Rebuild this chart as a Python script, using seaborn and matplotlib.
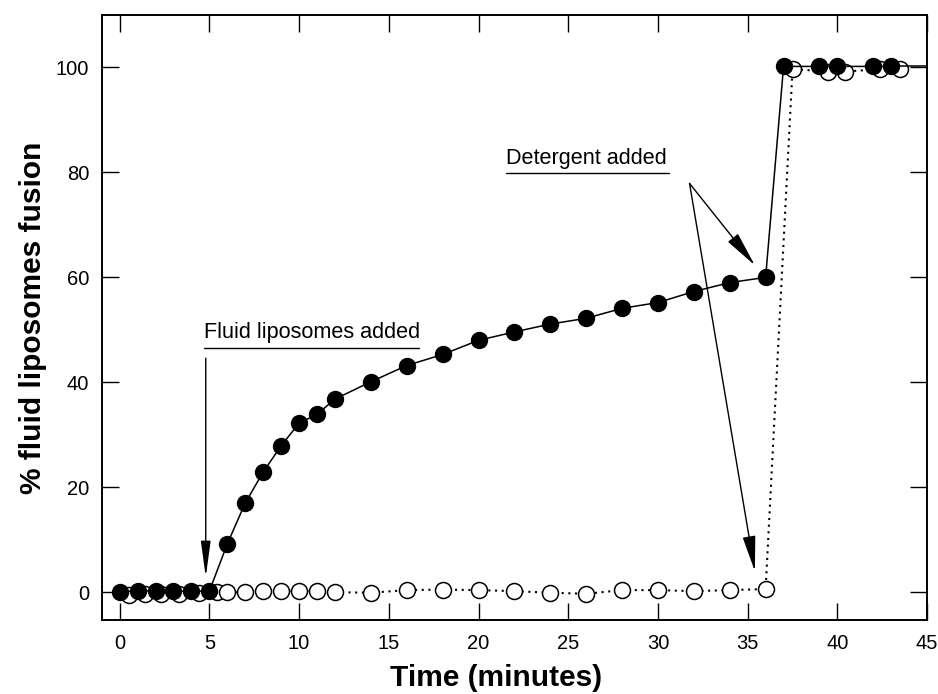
import matplotlib
matplotlib.use("Agg")
import matplotlib.pyplot as plt
import numpy as np
import pandas as pd
import seaborn as sns

# Filled circles: fluid liposomes added at t=5, detergent at t=36
filled_x = [0, 1, 2, 3, 4, 5, 6, 7, 8, 9, 10, 11, 12, 14, 16, 18, 20, 22, 24, 26,
            28, 30, 32, 34, 36, 37, 39, 40, 42, 43]
filled_y = [0.0, 0.3, 0.2, 0.2, 0.2, 0.2, 9.2, 17.0, 22.9, 27.9, 32.2, 33.9, 36.8,
            40.1, 43.2, 45.3, 48.0, 49.6, 51.1, 52.2, 54.1, 55.2, 57.3, 59.0, 60.0,
            100.2, 100.2, 100.2, 100.2, 100.2]

# Open circles: control, detergent only
open_x = [0.5, 1.4, 2.3, 3.3, 4.4, 5.4, 6, 7, 8, 9, 10, 11, 12, 14, 16, 18, 20, 22,
          24, 26, 28, 30, 32, 34, 36, 37.5, 39.5, 40.4, 42.4, 43.5]
open_y = [-0.5, -0.4, -0.4, -0.3, -0.2, 0.0, 0.0, 0.0, 0.2, 0.3, 0.2, 0.2, 0.0,
          -0.1, 0.4, 0.5, 0.4, 0.2, -0.1, -0.3, 0.4, 0.4, 0.2, 0.4, 0.6,
          99.7, 99.2, 99.2, 99.7, 99.7]

x_ticks = [0, 5, 10, 15, 20, 25, 30, 35, 40, 45]
y_ticks = [0, 20, 40, 60, 80, 100]

filled = pd.DataFrame({"time": filled_x, "fusion": filled_y})
control = pd.DataFrame({"time": open_x, "fusion": open_y})

sns.set_style("ticks")
plt.rcParams["font.family"] = ["Liberation Sans", "DejaVu Sans"]
plt.rcParams["text.color"] = "black"
plt.rcParams["axes.labelcolor"] = "black"
plt.rcParams["xtick.color"] = "black"
plt.rcParams["ytick.color"] = "black"

fig = plt.figure(figsize=(9.38, 6.94), dpi=100)
ax = fig.add_axes([0.1084, 0.1066, 0.88, 0.8718])

marker_area = 132

# control series (dotted) goes underneath
sns.lineplot(data=control, x="time", y="fusion", ax=ax, color="black",
             linewidth=1.5, linestyle=(0, (1, 2.2)), sort=False, estimator=None,
             zorder=1)
sns.scatterplot(data=control, x="time", y="fusion", ax=ax, s=marker_area,
                facecolor="white", edgecolor="black", linewidth=1.1, zorder=2)

sns.lineplot(data=filled, x="time", y="fusion", ax=ax, color="black",
             linewidth=1.1, sort=False, estimator=None, zorder=3)
# fitted line runs on to the edge of the axes
ax.hlines(filled_y[-1], filled_x[-1], 45, color="black", linewidth=1.1, zorder=3)
sns.scatterplot(data=filled, x="time", y="fusion", ax=ax, s=marker_area,
                color="black", edgecolor="black", linewidth=1.0, zorder=4)

ax.set_xlim(-1, 45)
ax.set_ylim(-5.3, 110)
ax.set_xticks(x_ticks)
ax.set_yticks(y_ticks)
ax.tick_params(axis="both", direction="in", length=12, width=1, labelsize=14.5,
               top=True, right=True, color="black")
ax.tick_params(axis="x", pad=10)
ax.tick_params(axis="y", pad=9)
for s in ax.spines.values():
    s.set_linewidth(1.4)
    s.set_color("black")

ax.set_xlabel("Time (minutes)", fontsize=21.5, fontweight="bold")
ax.xaxis.set_label_coords(0.478, -0.072)
ax.set_ylabel("% fluid liposomes fusion", fontsize=21.5, fontweight="bold",
              labelpad=6)

# annotations
ax.text(4.7, 49.4, "Fluid liposomes added", fontsize=15.6, ha="left", va="center")
ax.plot([4.7, 16.7], [46.5, 46.5], color="black", linewidth=1)
ax.annotate("", xy=(4.8, 2.9), xytext=(4.8, 44.6),
            arrowprops=dict(arrowstyle="-|>,head_length=2.2,head_width=0.3",
                            color="black", lw=1, shrinkA=0, shrinkB=0))

ax.text(21.55, 82.7, "Detergent added", fontsize=15.6, ha="left", va="center")
ax.plot([21.55, 30.6], [79.9, 79.9], color="black", linewidth=1)
for tip in [(35.4, 62.3), (35.4, 4.0)]:
    ax.annotate("", xy=tip, xytext=(31.76, 77.9),
                arrowprops=dict(arrowstyle="-|>,head_length=2.2,head_width=0.4",
                                color="black", lw=1, shrinkA=0, shrinkB=0))

fig.savefig("out.png", dpi=100)
